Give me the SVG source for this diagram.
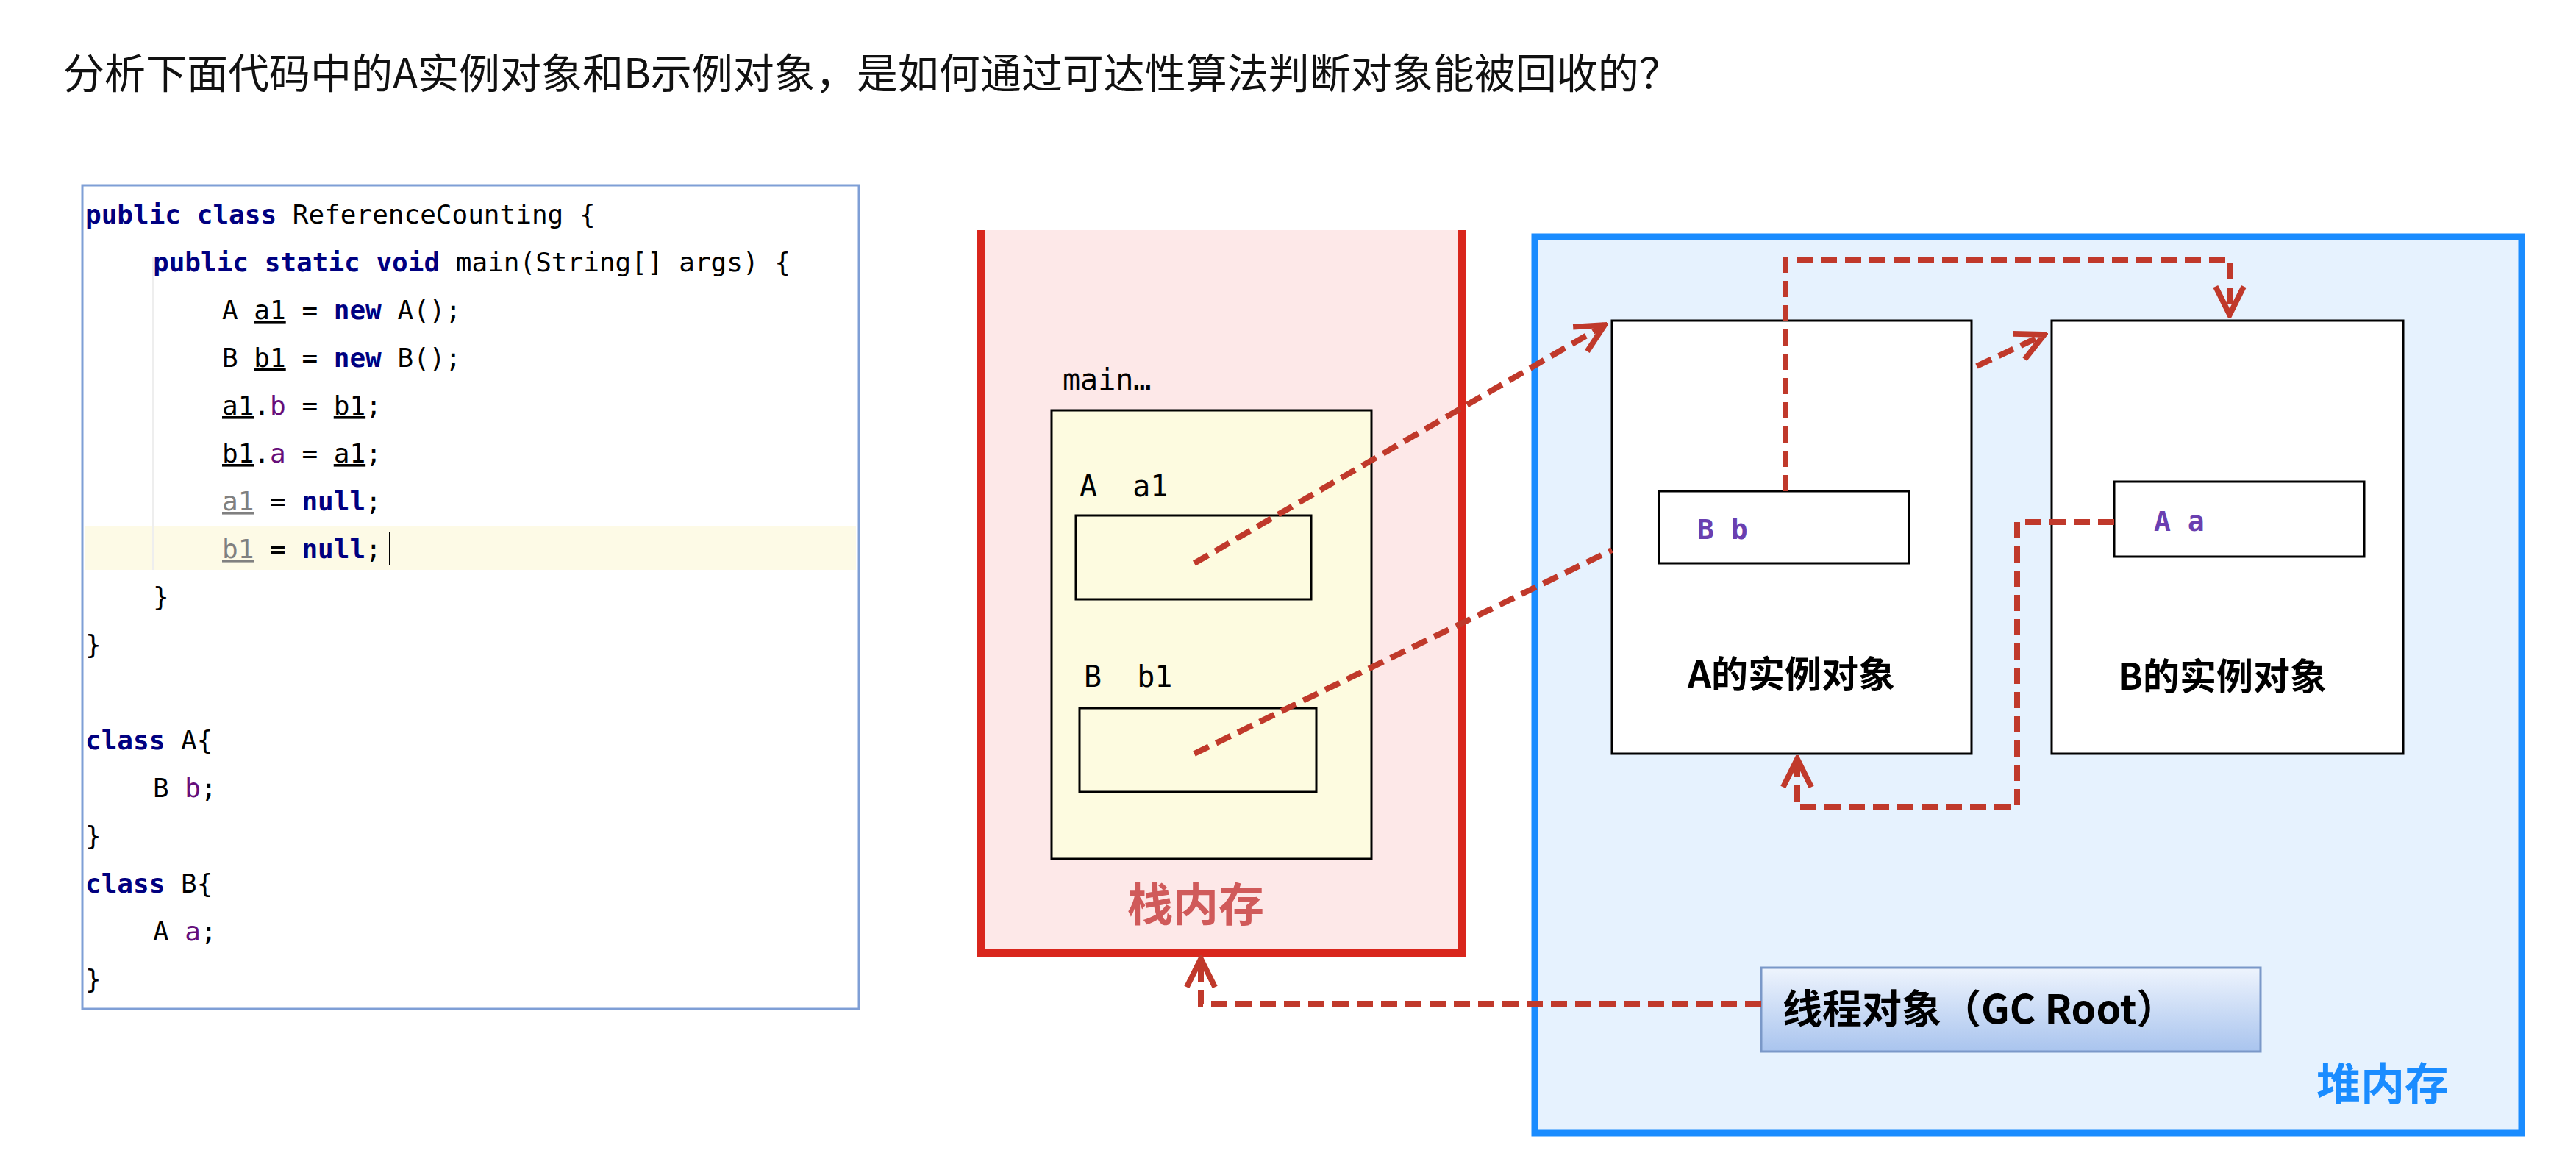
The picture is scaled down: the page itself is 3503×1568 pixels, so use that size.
<svg xmlns="http://www.w3.org/2000/svg" width="3503" height="1568" viewBox="0 0 3503 1568">
<defs>
<marker id="arr" viewBox="0 0 10 10" refX="9" refY="5" markerWidth="6" markerHeight="6" orient="auto" markerUnits="strokeWidth">
<polyline points="1,1 9,5 1,9" fill="none" stroke="#c0392b" stroke-width="1.6"/>
</marker>
<linearGradient id="gc" x1="0" y1="0" x2="0" y2="1">
<stop offset="0" stop-color="#eef4fd"/><stop offset="1" stop-color="#a9c4ee"/>
</linearGradient>
</defs>
<style>
.code{font-family:"DejaVu Sans Mono","Liberation Mono",monospace;font-size:36px;fill:#000}
.kw{fill:#000080;font-weight:bold}
.fld{fill:#660e7a}
.gray{fill:#808080}
.u{text-decoration:underline}
.lbl{font-family:"DejaVu Sans Mono","Liberation Mono",monospace;font-size:40px;fill:#000}
.cn{font-family:"Noto Sans CJK SC","Noto Sans",sans-serif;font-weight:bold}
.con{fill:none;stroke:#c0392b;stroke-width:8;stroke-dasharray:22 11}
.box{fill:#fff;stroke:#000;stroke-width:3}
</style>
<rect width="3503" height="1568" fill="#fff"/>
<text x="86" y="120" font-family="Noto Sans CJK SC,Noto Sans,sans-serif" font-size="56" fill="#111">分析下面代码中的A实例对象和B示例对象，是如何通过可达性算法判断对象能被回收的？</text>

<g id="code">
<rect x="112" y="252" width="1056" height="1120" fill="#fff" stroke="#7f9fd6" stroke-width="3"/>
<rect x="116" y="715" width="1048" height="60" fill="#fdfae6"/>
<line x1="208" y1="350" x2="208" y2="775" stroke="#eee" stroke-width="2"/>
<text class="code" x="116" y="304"><tspan class="kw">public class</tspan> ReferenceCounting {</text>
<text class="code" x="208" y="369"><tspan class="kw">public static void</tspan> main(String[] args) {</text>
<text class="code" x="302" y="434">A <tspan class="u">a1</tspan> = <tspan class="kw">new</tspan> A();</text>
<text class="code" x="302" y="499">B <tspan class="u">b1</tspan> = <tspan class="kw">new</tspan> B();</text>
<text class="code" x="302" y="564"><tspan class="u">a1</tspan>.<tspan class="fld">b</tspan> = <tspan class="u">b1</tspan>;</text>
<text class="code" x="302" y="629"><tspan class="u">b1</tspan>.<tspan class="fld">a</tspan> = <tspan class="u">a1</tspan>;</text>
<text class="code" x="302" y="694"><tspan class="gray u">a1</tspan> = <tspan class="kw">null</tspan>;</text>
<text class="code" x="302" y="759"><tspan class="gray u">b1</tspan> = <tspan class="kw">null</tspan>;</text>
<line x1="530" y1="724" x2="530" y2="768" stroke="#000" stroke-width="2"/>
<text class="code" x="208" y="824">}</text>
<text class="code" x="116" y="889">}</text>
<text class="code" x="116" y="1019"><tspan class="kw">class</tspan> A{</text>
<text class="code" x="208" y="1084">B <tspan class="fld">b</tspan>;</text>
<text class="code" x="116" y="1149">}</text>
<text class="code" x="116" y="1214"><tspan class="kw">class</tspan> B{</text>
<text class="code" x="208" y="1279">A <tspan class="fld">a</tspan>;</text>
<text class="code" x="116" y="1344">}</text>
</g>

<g id="stack">
<rect x="1334" y="313" width="654" height="983" fill="#fde8e8"/>
<polyline points="1334,313 1334,1296 1988,1296 1988,313" fill="none" stroke="#d9261c" stroke-width="10"/>
<text class="lbl" x="1445" y="530">main…</text>
<rect x="1430" y="558" width="435" height="610" fill="#fdfbe0" stroke="#000" stroke-width="3"/>
<text class="lbl" x="1468" y="675" xml:space="preserve">A  a1</text>
<rect x="1463" y="701" width="320" height="114" fill="#fdfbe0" stroke="#000" stroke-width="3"/>
<text class="lbl" x="1474" y="934" xml:space="preserve">B  b1</text>
<rect x="1468" y="963" width="322" height="114" fill="#fdfbe0" stroke="#000" stroke-width="3"/>
<text class="cn" x="1626" y="1253" font-size="62" fill="#d05a5a" text-anchor="middle">栈内存</text>
</g>

<g id="heap">
<rect x="2087" y="322" width="1342" height="1219" fill="#e6f2fe" stroke="#1a8cff" stroke-width="9"/>
<text class="cn" x="3240" y="1496" font-size="60" fill="#1a8cff" text-anchor="middle">堆内存</text>
</g>

<g id="objA">
<rect class="box" x="2192" y="436" width="489" height="589"/>
<rect class="box" x="2256" y="668" width="340" height="98"/>
<text x="2308" y="733" font-family="DejaVu Sans Mono,monospace" font-size="38" font-weight="bold" fill="#6a3fb0">B b</text>
<text class="cn" x="2436" y="935" font-size="50" text-anchor="middle" fill="#000">A的实例对象</text>
</g>

<g id="objB">
<rect class="box" x="2790" y="436" width="478" height="589"/>
<rect class="box" x="2875" y="655" width="340" height="102"/>
<text x="2929" y="722" font-family="DejaVu Sans Mono,monospace" font-size="38" font-weight="bold" fill="#6a3fb0">A a</text>
<text class="cn" x="3022" y="938" font-size="50" text-anchor="middle" fill="#000">B的实例对象</text>
</g>

<g id="gcroot">
<rect x="2395" y="1316" width="679" height="114" fill="url(#gc)" stroke="#7a98c8" stroke-width="3"/>
<text class="cn" x="2424" y="1392" font-size="54" fill="#000">线程对象（GC Root）</text>
</g>

<g id="connectors">
<line class="con" x1="1624" y1="766" x2="2182" y2="442" marker-end="url(#arr)"/>
<line class="con" x1="1624" y1="1025" x2="2192" y2="748"/>
<line class="con" x1="2688" y1="498" x2="2780" y2="455" marker-end="url(#arr)"/>
<polyline class="con" points="2428,668 2428,353 3032,353 3032,428" marker-end="url(#arr)"/>
<polyline class="con" points="2875,710 2743,710 2743,1097 2444,1097 2444,1032" marker-end="url(#arr)"/>
<polyline class="con" points="2395,1365 1633,1365 1633,1304" marker-end="url(#arr)"/>
</g>
</svg>
